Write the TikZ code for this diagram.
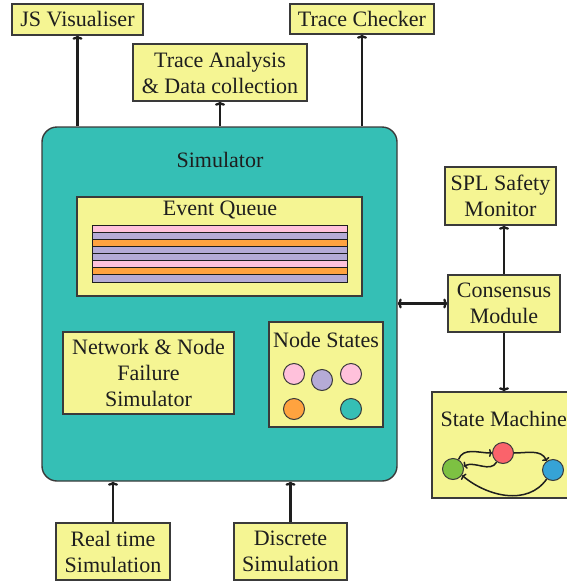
\documentclass[tikz,border=0pt]{standalone}
\usepackage{fontspec}
\setmainfont{Liberation Serif}
\usetikzlibrary{arrows.meta}
\definecolor{boxfill}{HTML}{F5F593}
\definecolor{teal2}{HTML}{35BFB5}
\definecolor{edge}{HTML}{3A3A3A}
\definecolor{qpink}{HTML}{FFC1DB}
\definecolor{qlav}{HTML}{B5ABD6}
\definecolor{qorange}{HTML}{FFA33F}
\definecolor{sgreen}{HTML}{7DC142}
\definecolor{sred}{HTML}{FA636B}
\definecolor{sblue}{HTML}{36A3D6}
\definecolor{ink}{HTML}{1E1E1E}
\begin{document}
\begin{tikzpicture}[x=1pt,y=1pt,
 txt/.style={font=\fontsize{22}{26}\selectfont, text=ink},
 box/.style={txt, draw=edge, fill=boxfill, line width=1.4pt, align=center, inner sep=0pt},
 arr/.style={draw=ink, line width=2.3pt, -{To[length=4pt,width=10pt]}},
 darr/.style={draw=ink, line width=2.3pt, {To[length=4pt,width=10pt]}-{To[length=4pt,width=10pt]}},
 dot/.style={circle, draw=edge, line width=1pt, minimum size=21pt, inner sep=0pt},
 smarr/.style={draw=ink, line width=1.5pt, -{To[length=3pt,width=8pt]}},
]
\useasboundingbox (0,0) rectangle (566,-581);

% Simulator
\node[draw=edge, fill=teal2, line width=1.4pt, rounded corners=15pt, minimum width=355pt, minimum height=354pt, inner sep=0pt] (sim) at (219.5,-304) {};
\node[txt] (simtitle) at (220,-160) {Simulator};

% Event queue
\node[box, minimum width=285pt, minimum height=99pt] (eq) at (219.5,-246.5) {};
\node[txt] (eqtitle) at (220,-210) {Event Queue};
\foreach \c [count=\i] in {qpink,qlav,qorange,qlav,qlav,qpink,qorange,qlav}
  \draw[fill=\c, draw=ink, line width=0.9pt] (92,{-225-(\i-1)*7.125}) rectangle (347,{-225-\i*7.125});

% Network failure simulator
\node[box, minimum width=171pt, minimum height=82pt] (net) at (148.5,-373) {Network \& Node\\Failure\\Simulator};

% Node states
\node[box, minimum width=114pt, minimum height=105pt] (ns) at (326,-374.5) {};
\node[txt] (nstitle) at (326,-340) {Node States};
\node[dot, fill=qpink] (d1) at (294,-374) {};
\node[dot, fill=qlav] (d2) at (322,-380) {};
\node[dot, fill=qpink] (d3) at (351,-374) {};
\node[dot, fill=qorange] (d4) at (294,-409) {};
\node[dot, fill=teal2] (d5) at (351,-409) {};

% Right side
\node[box, minimum width=111pt, minimum height=58pt] (spl) at (500.5,-196) {SPL Safety\\Monitor};
\node[box, minimum width=112pt, minimum height=57pt] (cons) at (504,-303.5) {Consensus\\Module};
\node[box, minimum width=160pt, minimum height=106pt] (sm) at (512,-445) {};
\node[txt, anchor=west] (smtitle) at (437,-419) {State Machine};
\node[dot, fill=sgreen] (g) at (453,-469) {};
\node[dot, fill=sred] (r) at (503,-453) {};
\node[dot, fill=sblue] (b) at (553,-470) {};

\draw[arr] (cons.north) -- (cons.north |- spl.south);
\draw[darr] (sim.east |- cons.west) -- (cons.west);
\draw[arr] (cons.south) -- (cons.south |- sm.north);

\draw[smarr] (g.60) to[out=70,in=180] (r.west);
\draw[smarr] (r.east) to[out=0,in=115] (b.125);
\draw[smarr] (r.235) to[out=240,in=25] (g.15);
\draw[smarr] (b.235) to[out=235,in=-40] (g.-35);

% Top boxes
\node[box, minimum width=131pt, minimum height=31pt] (js) at (77.5,-19.5) {JS Visualiser};
\node[box, minimum width=144pt, minimum height=30pt] (tc) at (362,-19) {Trace Checker};
\node[box, minimum width=174pt, minimum height=57pt] (ta) at (220,-72.5) {Trace Analysis\\\& Data collection};
\draw[arr] (js.south |- sim.north) -- (js.south);
\draw[arr] (tc.south |- sim.north) -- (tc.south);
\draw[arr] (ta.south |- sim.north) -- (ta.south);

% Bottom boxes
\node[box, minimum width=114pt, minimum height=57pt] (rt) at (113,-551.5) {Real time\\Simulation};
\node[box, minimum width=113pt, minimum height=57pt] (ds) at (290.5,-551.5) {Discrete\\Simulation};
\draw[arr] (rt.north) -- (rt.north |- sim.south);
\draw[arr] (ds.north) -- (ds.north |- sim.south);
\end{tikzpicture}
\end{document}
